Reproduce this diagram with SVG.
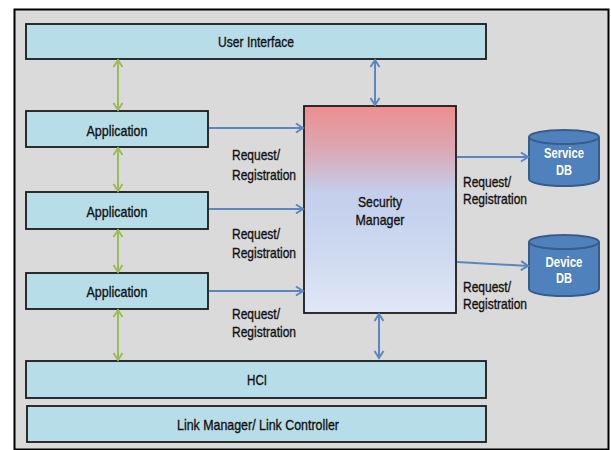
<svg xmlns="http://www.w3.org/2000/svg" width="611" height="450" viewBox="0 0 611 450">
  <style>
    text { font-family: "Liberation Sans", Arial, sans-serif; font-size: 15px; fill: #111; stroke: #111; stroke-width: 0.35; }
    .box { fill: #b7dde8; stroke: #1a1a1a; stroke-width: 1.8; }
    .lbl { text-anchor: middle; }
    .db { fill: #4f81bd; stroke: #385d8a; stroke-width: 2; }
    .dbtxt { fill: #ffffff; stroke: none; text-anchor: middle; font-weight: bold; }
    .blue { stroke: #5b87c0; stroke-width: 2; fill: none; }
    .green { stroke: #9bbb59; stroke-width: 2; fill: none; }
  </style>
  <defs>
    <linearGradient id="smGrad" x1="0" y1="0" x2="0" y2="1">
      <stop offset="0" stop-color="#ee8e8d"/>
      <stop offset="0.2" stop-color="#dca6b2"/>
      <stop offset="0.42" stop-color="#c3cfeb"/>
      <stop offset="0.7" stop-color="#cdd9f0"/>
      <stop offset="1" stop-color="#e1e7f6"/>
    </linearGradient>
    <marker id="ahBlue" markerUnits="userSpaceOnUse" markerWidth="12" markerHeight="12" refX="9" refY="6" orient="auto-start-reverse">
      <path d="M2,1.5 L9,6 L2,10.5" fill="none" stroke="#5b87c0" stroke-width="2"/>
    </marker>
    <marker id="ahGreen" markerUnits="userSpaceOnUse" markerWidth="12" markerHeight="12" refX="9" refY="6" orient="auto-start-reverse">
      <path d="M2,1.5 L9,6 L2,10.5" fill="none" stroke="#9bbb59" stroke-width="2"/>
    </marker>
  </defs>

  <!-- page background and frame -->
  <rect x="0" y="0" width="611" height="450" fill="#ffffff"/>
  <rect x="14.5" y="9.5" width="594" height="440" fill="#dadada" stroke="#000" stroke-width="2"/>

  <g id="user-interface">
    <rect class="box" x="26" y="24" width="460" height="35"/>
    <text class="lbl" x="256" y="47" textLength="76" lengthAdjust="spacingAndGlyphs">User Interface</text>
  </g>
  <g id="application-1">
    <rect class="box" x="26" y="111" width="182" height="36"/>
    <text class="lbl" x="117" y="136" textLength="61" lengthAdjust="spacingAndGlyphs">Application</text>
  </g>
  <g id="application-2">
    <rect class="box" x="26" y="192" width="182" height="37"/>
    <text class="lbl" x="117" y="217" textLength="61" lengthAdjust="spacingAndGlyphs">Application</text>
  </g>
  <g id="application-3">
    <rect class="box" x="26" y="273" width="182" height="36"/>
    <text class="lbl" x="117" y="297" textLength="61" lengthAdjust="spacingAndGlyphs">Application</text>
  </g>
  <g id="hci">
    <rect class="box" x="26" y="361" width="460" height="37"/>
    <text class="lbl" x="257" y="385" textLength="20" lengthAdjust="spacingAndGlyphs">HCI</text>
  </g>
  <g id="link-manager">
    <rect class="box" x="27" y="406" width="459" height="36"/>
    <text class="lbl" x="258" y="430" textLength="162" lengthAdjust="spacingAndGlyphs">Link Manager/ Link Controller</text>
  </g>
  <g id="security-manager">
    <rect x="304" y="106" width="152" height="207" fill="url(#smGrad)" stroke="#1a1a1a" stroke-width="1.8"/>
    <text class="lbl" x="380" y="207" textLength="44" lengthAdjust="spacingAndGlyphs">Security</text>
    <text class="lbl" x="380" y="225" textLength="49" lengthAdjust="spacingAndGlyphs">Manager</text>
  </g>
  <g id="service-db">
    <path class="db" d="M529,137 V179 A35,7 0 0 0 599,179 V137"/>
    <ellipse class="db" cx="564" cy="137" rx="35" ry="7"/>
    <text class="dbtxt" x="564" y="158" textLength="40" lengthAdjust="spacingAndGlyphs">Service</text>
    <text class="dbtxt" x="564" y="175" textLength="16" lengthAdjust="spacingAndGlyphs">DB</text>
  </g>
  <g id="device-db">
    <path class="db" d="M529,242 V289 A35,7 0 0 0 599,289 V242"/>
    <ellipse class="db" cx="564" cy="242" rx="35" ry="7"/>
    <text class="dbtxt" x="564" y="267" textLength="37" lengthAdjust="spacingAndGlyphs">Device</text>
    <text class="dbtxt" x="564" y="283" textLength="16" lengthAdjust="spacingAndGlyphs">DB</text>
  </g>

  <g id="connectors">
    <!-- stack links on the left -->
    <line class="green" x1="118" y1="60" x2="118" y2="110" marker-start="url(#ahGreen)" marker-end="url(#ahGreen)"/>
    <line class="green" x1="118" y1="148" x2="118" y2="191" marker-start="url(#ahGreen)" marker-end="url(#ahGreen)"/>
    <line class="green" x1="118" y1="230" x2="118" y2="272" marker-start="url(#ahGreen)" marker-end="url(#ahGreen)"/>
    <line class="green" x1="118" y1="310" x2="118" y2="360" marker-start="url(#ahGreen)" marker-end="url(#ahGreen)"/>
    <!-- security manager links -->
    <line class="blue" x1="375" y1="60" x2="375" y2="105" marker-start="url(#ahBlue)" marker-end="url(#ahBlue)"/>
    <line class="blue" x1="379" y1="314" x2="379" y2="358" marker-start="url(#ahBlue)" marker-end="url(#ahBlue)"/>
    <line class="blue" x1="209" y1="128" x2="303" y2="128" marker-end="url(#ahBlue)"/>
    <line class="blue" x1="209" y1="209" x2="303" y2="209" marker-end="url(#ahBlue)"/>
    <line class="blue" x1="209" y1="291" x2="303" y2="291" marker-end="url(#ahBlue)"/>
    <line class="blue" x1="457" y1="157" x2="528" y2="157" marker-end="url(#ahBlue)"/>
    <line class="blue" x1="457" y1="262" x2="528" y2="266" marker-end="url(#ahBlue)"/>
    <!-- connector labels -->
    <text x="232" y="160" textLength="48" lengthAdjust="spacingAndGlyphs">Request/</text>
    <text x="232" y="180" textLength="64" lengthAdjust="spacingAndGlyphs">Registration</text>
    <text x="232" y="239" textLength="48" lengthAdjust="spacingAndGlyphs">Request/</text>
    <text x="232" y="258" textLength="64" lengthAdjust="spacingAndGlyphs">Registration</text>
    <text x="232" y="319" textLength="48" lengthAdjust="spacingAndGlyphs">Request/</text>
    <text x="232" y="337" textLength="64" lengthAdjust="spacingAndGlyphs">Registration</text>
    <text x="463" y="187" textLength="48" lengthAdjust="spacingAndGlyphs">Request/</text>
    <text x="463" y="204" textLength="64" lengthAdjust="spacingAndGlyphs">Registration</text>
    <text x="463" y="292" textLength="48" lengthAdjust="spacingAndGlyphs">Request/</text>
    <text x="463" y="309" textLength="64" lengthAdjust="spacingAndGlyphs">Registration</text>
  </g>
</svg>
